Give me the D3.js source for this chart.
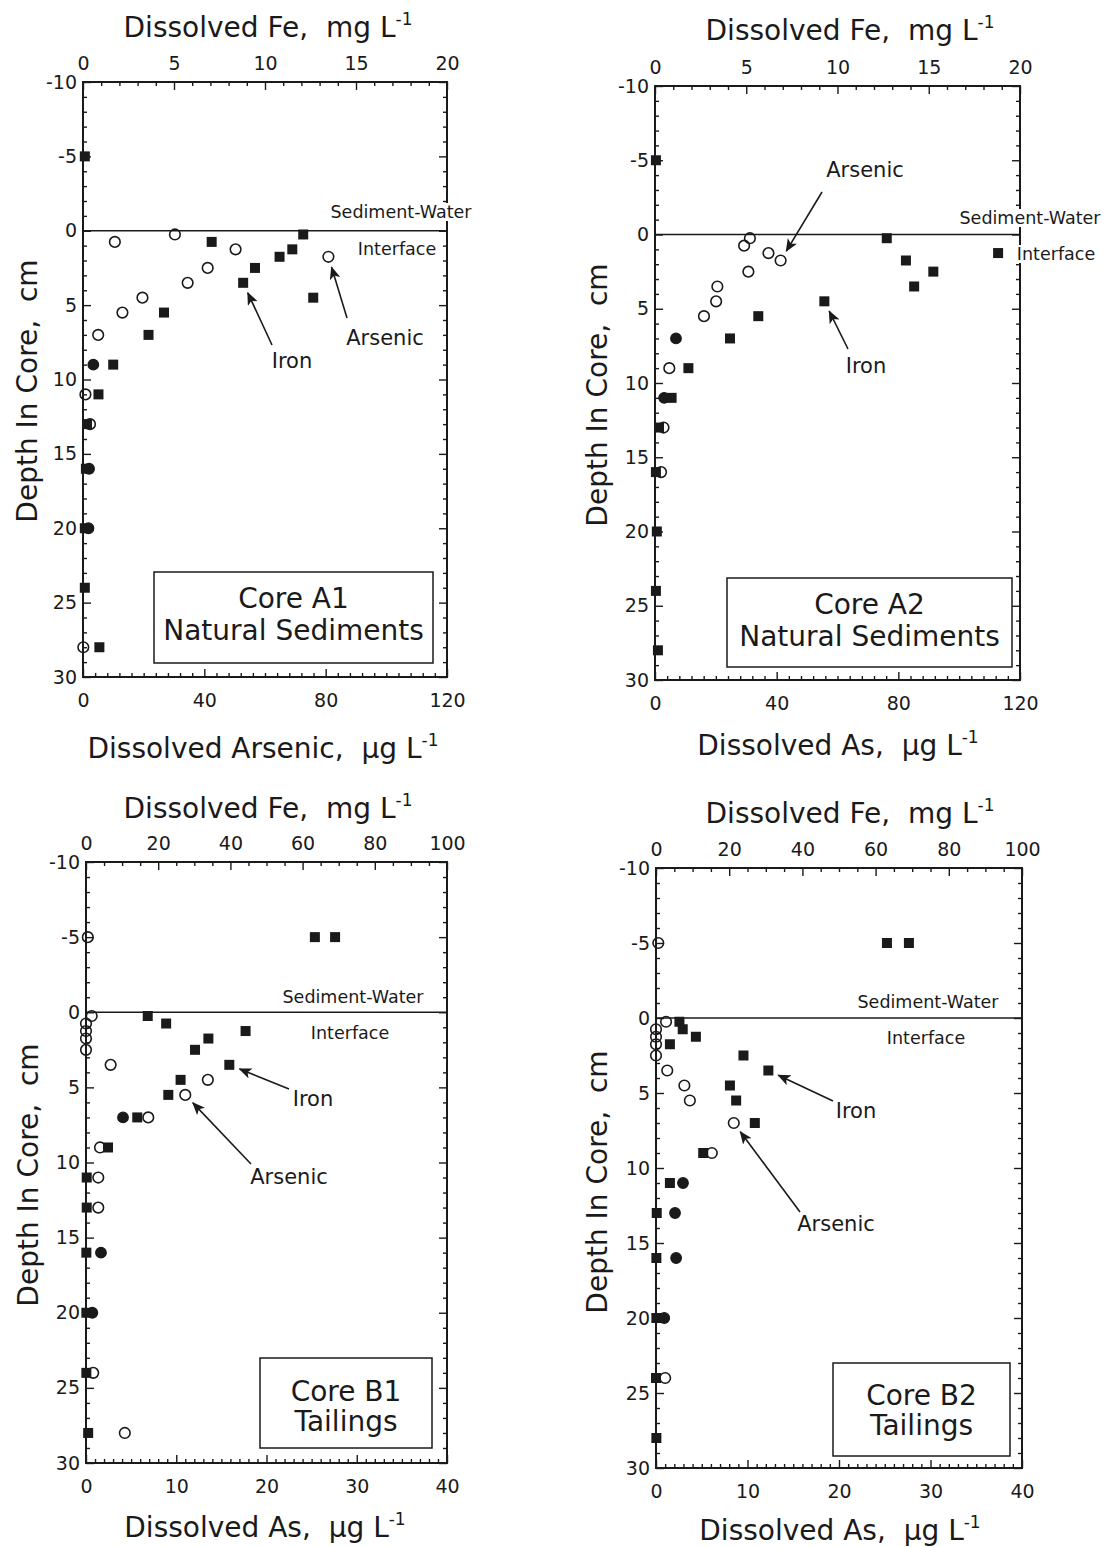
<!DOCTYPE html>
<html><head><meta charset="utf-8">
<script src="https://cdn.jsdelivr.net/npm/d3@7"></script>
<style>body{margin:0;background:#fff} svg{display:block} text{white-space:pre}</style>
</head><body><svg id="c" width="1117" height="1547"></svg>
<script>
// ---------------- DATA ----------------
const depths = [-5, 0.25, 0.75, 1.25, 1.75, 2.5, 3.5, 4.5, 5.5, 7, 9, 11, 13, 16, 20, 24, 28];

// Core A1 (As in µg/L, Fe in mg/L)
const a1As       = [null, 30.3, 10.5, 50.3, 80.9, 41.1, 34.5, 19.6, 13.0, 5.0, null, 0.8, 2.3, null, null, null, 0.1];
const a1AsFilled = [null, null, null, null, null, null, null, null, null, null, 3.4, null, null, 2.0, 1.8, null, null];
const a1Fe       = [0.1, 12.1, 7.07, 11.5, 10.8, 9.45, 8.8, 12.65, 4.45, 3.6, 1.66, 0.85, 0.22, 0.16, 0.1, 0.1, 0.9];

// Core A2
const a2As       = [null, 31.2, 29.3, 37.3, 41.3, 30.7, 20.5, 20.1, 16.1, null, 4.7, null, 2.8, 2.0, null, null, null];
const a2AsFilled = [null, null, null, null, null, null, null, null, null, 6.9, null, 3.0, null, null, null, null, null];
const a2Fe       = [0.05, 12.7, null, 18.8, 13.75, 15.25, 14.2, 9.28, 5.66, 4.11, 1.83, 0.91, 0.22, 0.05, 0.1, 0.05, 0.16];

// Core B1
const b1As       = [0.2, 0.63, 0, 0, 0, 0, 2.73, 13.5, 11.0, 6.9, 1.55, 1.36, 1.36, null, null, 0.8, 4.3];
const b1AsFilled = [null, null, null, null, null, null, null, null, null, 4.1, null, null, null, 1.66, 0.7, null, null];
const b1Fe       = [null, 17.1, 22.2, 44.2, 33.9, 30.2, 39.7, 26.2, 22.8, 14.2, 6.1, 0.2, 0.2, 0.1, 0.1, 0.1, 0.6];
const b1FeWater  = [63.4, 69.0];   // overlying water (depth -5)

// Core B2
const b2As       = [0.25, 1.1, 0, 0, 0, 0, 1.23, 3.1, 3.7, 8.5, 6.1, null, null, null, null, 1.0, null];
const b2AsFilled = [null, null, null, null, null, null, null, null, null, null, null, 2.95, 2.08, 2.2, 0.9, null, null];
const b2Fe       = [null, 6.4, 7.3, 10.9, 3.8, 23.9, 30.7, 20.2, 21.9, 27.0, 12.9, 3.8, 0.2, 0.1, 0.1, 0.0, 0.1];
const b2FeWater  = [63.1, 69.1];

const depthTicks = [-10, -5, 0, 5, 10, 15, 20, 25, 30];
const asTicksA = [0, 40, 80, 120];
const feTicksA = [0, 5, 10, 15, 20];
const asTicksB = [0, 10, 20, 30, 40];
const feTicksB = [0, 20, 40, 60, 80, 100];

// ---------------- LAYOUT ----------------
const FONT = "'DejaVu Sans', 'Liberation Sans', Arial, sans-serif";
const INK = '#1a1a1a';
const svg = d3.select('#c');
svg.append('defs').append('marker')
  .attr('id', 'ah').attr('viewBox', '0 0 12 10').attr('refX', 11).attr('refY', 5)
  .attr('markerWidth', 13).attr('markerHeight', 11).attr('markerUnits', 'userSpaceOnUse')
  .attr('orient', 'auto')
  .append('path').attr('d', 'M0,0 L12,5 L0,10 L3,5 Z').attr('fill', INK);

const panels = [
  { x0: 83, x1: 447, y0: 82, y1: 677, asMax: 120, feMax: 20, asTicks: asTicksA, feTicks: feTicksA,
    asMinor: 4, feMinor: 1, as: a1As, asFilled: a1AsFilled, fe: a1Fe, feWater: null,
    topTitle: [268, 37], bottomTitle: [263, 758], bottomText: 'Dissolved Arsenic,  \u03bcg L', yTitle: [37, 391],
    box: [154, 572, 279, 91], boxLines: ['Core A1', 'Natural Sediments'], boxBase: [608, 640],
    sw: [401, 218], itf: [397, 255],
    notes: [{ t: 'Iron', c: [292, 368], tail: [272, 345], series: 'fe', i: 6 },
            { t: 'Arsenic', c: [385, 345], tail: [347, 318], series: 'as', i: 4 }] },
  { x0: 655, x1: 1020, y0: 86, y1: 680, asMax: 120, feMax: 20, asTicks: asTicksA, feTicks: feTicksA,
    asMinor: 4, feMinor: 1, as: a2As, asFilled: a2AsFilled, fe: a2Fe, feWater: null,
    topTitle: [850, 40], bottomTitle: [838, 755], bottomText: 'Dissolved As,  \u03bcg L', yTitle: [607, 395],
    box: [727, 578, 285, 89], boxLines: ['Core A2', 'Natural Sediments'], boxBase: [614, 646],
    sw: [1030, 224], itf: [1056, 260],
    notes: [{ t: 'Arsenic', c: [865, 177], tail: [822, 192], series: 'as', i: 4 },
            { t: 'Iron', c: [866, 373], tail: [848, 349], series: 'fe', i: 7 }] },
  { x0: 86, x1: 447, y0: 862, y1: 1463, asMax: 40, feMax: 100, asTicks: asTicksB, feTicks: feTicksB,
    asMinor: 1, feMinor: 5, as: b1As, asFilled: b1AsFilled, fe: b1Fe, feWater: b1FeWater,
    topTitle: [268, 818], bottomTitle: [265, 1537], bottomText: 'Dissolved As,  \u03bcg L', yTitle: [38, 1175],
    box: [260, 1358, 172, 90], boxLines: ['Core B1', 'Tailings'], boxBase: [1401, 1431],
    sw: [353, 1003], itf: [350, 1039],
    notes: [{ t: 'Iron', c: [313, 1106], tail: [289, 1089], series: 'fe', i: 6 },
            { t: 'Arsenic', c: [289, 1184], tail: [251, 1164], series: 'as', i: 8 }] },
  { x0: 656, x1: 1022, y0: 868, y1: 1468, asMax: 40, feMax: 100, asTicks: asTicksB, feTicks: feTicksB,
    asMinor: 1, feMinor: 5, as: b2As, asFilled: b2AsFilled, fe: b2Fe, feWater: b2FeWater,
    topTitle: [850, 823], bottomTitle: [840, 1540], bottomText: 'Dissolved As,  \u03bcg L', yTitle: [607, 1182],
    box: [833, 1363, 177, 93], boxLines: ['Core B2', 'Tailings'], boxBase: [1405, 1435],
    sw: [928, 1008], itf: [926, 1044],
    notes: [{ t: 'Iron', c: [856, 1118], tail: [833, 1101], series: 'fe', i: 6 },
            { t: 'Arsenic', c: [836, 1231], tail: [800, 1212], series: 'as', i: 9 }] }
];

function styleAxis(s, size) {
  s.select('.domain').remove();
  s.selectAll('line').attr('stroke', INK).attr('stroke-width', 1.4);
  s.selectAll('text').attr('font-family', FONT).attr('font-size', size || 19).attr('fill', INK);
}
function addAxis(g, ax, tr) {
  g.append('g').attr('transform', tr).call(ax).call(s => styleAxis(s));
}
function titleWithSup(g, x, y, main, rot) {
  const t = g.append('text').attr('font-family', FONT).attr('font-size', 28).attr('fill', INK)
    .attr('text-anchor', 'middle');
  if (rot) t.attr('transform', `translate(${x},${y}) rotate(-90)`);
  else t.attr('x', x).attr('y', y);
  t.append('tspan').text(main);
  if (!rot) {
    t.append('tspan').attr('font-size', 17).attr('dy', -12).text('-1');
  }
  return t;
}

panels.forEach(p => {
  const g = svg.append('g');
  const x = d3.scaleLinear().domain([0, p.asMax]).range([p.x0, p.x1]);
  const xf = d3.scaleLinear().domain([0, p.feMax]).range([p.x0, p.x1]);
  const y = d3.scaleLinear().domain([-10, 30]).range([p.y0, p.y1]);
  const eps = 1e-9;

  // depth axes (left with labels, right mirrored)
  const yMinor = d3.range(-10, 30 + eps, 1).filter(d => d % 5 !== 0);
  addAxis(g, d3.axisLeft(y).tickValues(yMinor).tickSize(-4).tickFormat(''), `translate(${p.x0},0)`);
  addAxis(g, d3.axisLeft(y).tickValues(depthTicks).tickSize(-8).tickPadding(6).tickFormat(d => String(d)), `translate(${p.x0},0)`);
  addAxis(g, d3.axisRight(y).tickValues(yMinor).tickSize(-4).tickFormat(''), `translate(${p.x1},0)`);
  addAxis(g, d3.axisRight(y).tickValues(depthTicks).tickSize(-8).tickFormat(''), `translate(${p.x1},0)`);

  // Fe (top) axis
  const feMinor = d3.range(0, p.feMax + eps, p.feMinor).filter(v => !p.feTicks.includes(v));
  addAxis(g, d3.axisTop(xf).tickValues(feMinor).tickSize(-4).tickFormat(''), `translate(0,${p.y0})`);
  addAxis(g, d3.axisTop(xf).tickValues(p.feTicks).tickSize(-8).tickPadding(12).tickFormat(d => String(d)), `translate(0,${p.y0})`);

  // As (bottom) axis
  const asMinor = d3.range(0, p.asMax + eps, p.asMinor).filter(v => !p.asTicks.includes(v));
  addAxis(g, d3.axisBottom(x).tickValues(asMinor).tickSize(-4).tickFormat(''), `translate(0,${p.y1})`);
  addAxis(g, d3.axisBottom(x).tickValues(p.asTicks).tickSize(-8).tickPadding(17).tickFormat(d => String(d)), `translate(0,${p.y1})`);

  // frame
  g.append('rect').attr('x', p.x0).attr('y', p.y0).attr('width', p.x1 - p.x0).attr('height', p.y1 - p.y0)
    .attr('fill', 'none').attr('stroke', INK).attr('stroke-width', 2);

  // sediment-water interface line
  g.append('line').attr('x1', x(0)).attr('x2', x(p.asMax)).attr('y1', y(0)).attr('y2', y(0))
    .attr('stroke', INK).attr('stroke-width', 1.5);

  // interface labels with white backing
  [['Sediment-Water', p.sw], ['Interface', p.itf]].forEach(([txt, pos]) => {
    const t = g.append('text').attr('x', pos[0]).attr('y', pos[1]).attr('text-anchor', 'middle')
      .attr('font-family', FONT).attr('font-size', 17.5).attr('fill', INK).text(txt);
    const b = t.node().getBBox();
    g.insert('rect', () => t.node()).attr('x', b.x - 2).attr('y', b.y + 1).attr('width', b.width + 4)
      .attr('height', b.height - 2).attr('fill', '#fff');
  });

  // Fe squares
  const S = 10;
  const fePts = depths.map((d, i) => ({ d, v: p.fe[i] })).filter(o => o.v != null);
  g.selectAll('rect.fe').data(fePts).enter().append('rect').attr('class', 'fe')
    .attr('x', o => xf(o.v) - S / 2).attr('y', o => y(o.d) - S / 2).attr('width', S).attr('height', S)
    .attr('fill', INK);
  if (p.feWater) {
    g.selectAll('rect.few').data(p.feWater).enter().append('rect').attr('class', 'few')
      .attr('x', v => xf(v) - S / 2).attr('y', y(-5) - S / 2).attr('width', S).attr('height', S)
      .attr('fill', INK);
  }
  // As open circles
  const asPts = depths.map((d, i) => ({ d, v: p.as[i] })).filter(o => o.v != null);
  g.selectAll('circle.as').data(asPts).enter().append('circle').attr('class', 'as')
    .attr('cx', o => x(o.v)).attr('cy', o => y(o.d)).attr('r', 5.3)
    .attr('fill', 'none').attr('stroke', INK).attr('stroke-width', 1.6);
  // dark (filled) circles
  const afPts = depths.map((d, i) => ({ d, v: p.asFilled[i] })).filter(o => o.v != null);
  g.selectAll('circle.asf').data(afPts).enter().append('circle').attr('class', 'asf')
    .attr('cx', o => x(o.v)).attr('cy', o => y(o.d)).attr('r', 5.3)
    .attr('fill', INK).attr('stroke', INK).attr('stroke-width', 1.2);

  // annotations with arrows
  p.notes.forEach(n => {
    const v = n.series === 'fe' ? p.fe[n.i] : p.as[n.i];
    const tx = n.series === 'fe' ? xf(v) : x(v);
    const ty = y(depths[n.i]);
    const dx = tx - n.tail[0], dy = ty - n.tail[1];
    const L = Math.hypot(dx, dy), k = (L - 11) / L;
    g.append('line').attr('x1', n.tail[0]).attr('y1', n.tail[1])
      .attr('x2', n.tail[0] + dx * k).attr('y2', n.tail[1] + dy * k)
      .attr('stroke', INK).attr('stroke-width', 1.6).attr('marker-end', 'url(#ah)');
    g.append('text').attr('x', n.c[0]).attr('y', n.c[1]).attr('text-anchor', 'middle')
      .attr('font-family', FONT).attr('font-size', 21).attr('fill', INK).text(n.t);
  });

  // core label box
  g.append('rect').attr('x', p.box[0]).attr('y', p.box[1]).attr('width', p.box[2]).attr('height', p.box[3])
    .attr('fill', '#fff').attr('stroke', INK).attr('stroke-width', 1.5);
  p.boxLines.forEach((l, i) => {
    g.append('text').attr('x', p.box[0] + p.box[2] / 2).attr('y', p.boxBase[i]).attr('text-anchor', 'middle')
      .attr('font-family', FONT).attr('font-size', 28).attr('fill', INK).text(l);
  });

  // axis titles
  titleWithSup(g, p.topTitle[0], p.topTitle[1], 'Dissolved Fe,  mg L');
  titleWithSup(g, p.bottomTitle[0], p.bottomTitle[1], p.bottomText);
  titleWithSup(g, p.yTitle[0], p.yTitle[1], 'Depth In Core,  cm', true);
});
</script></body></html>
